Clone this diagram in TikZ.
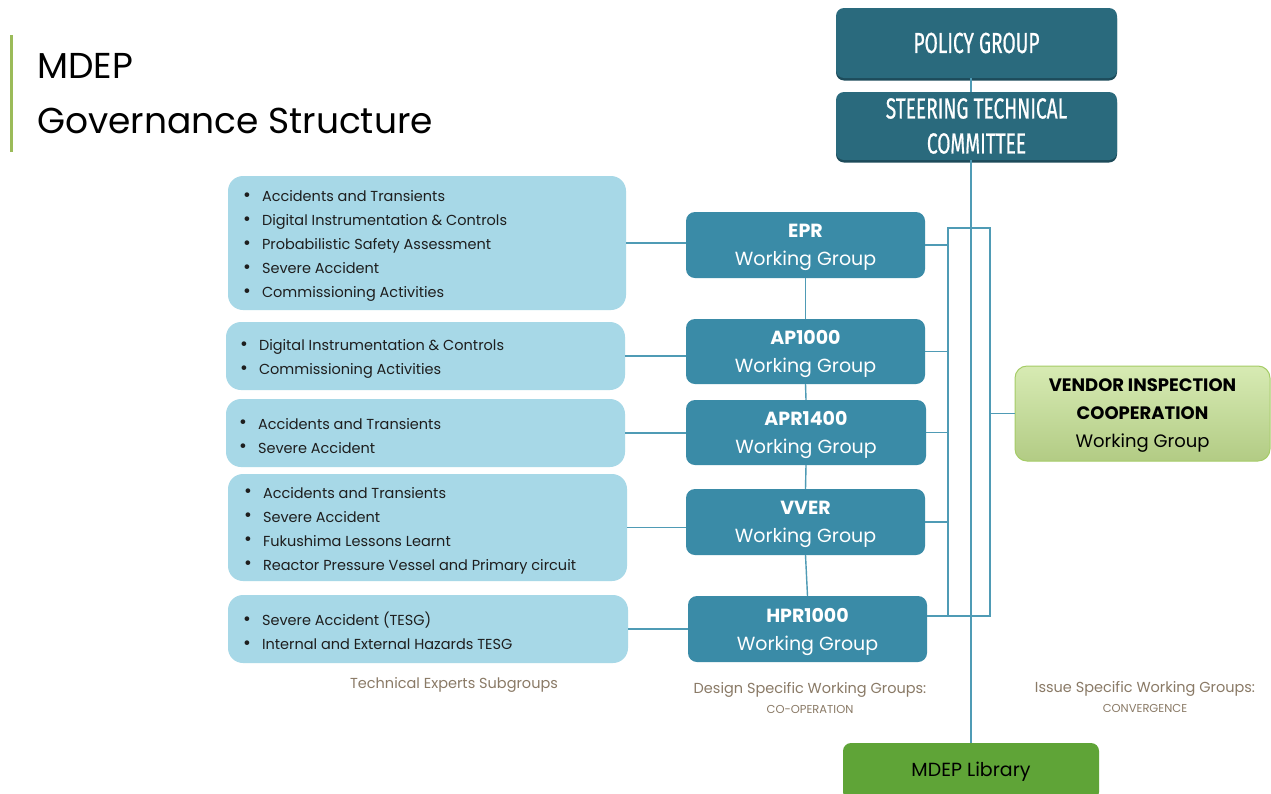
\documentclass[tikz,border=0pt]{standalone}
\usepackage{fontspec}
\setmainfont{Poppins}
\newfontfamily\condfont[FakeStretch=0.66,FakeBold=0.6]{Fira Sans}
\usetikzlibrary{shadows}
\definecolor{darkteal}{HTML}{2A6A7D}
\definecolor{tealedge}{HTML}{1D4B5A}
\definecolor{wgblue}{HTML}{3A8BA7}
\definecolor{lightblue}{HTML}{A7D8E7}
\definecolor{linkblue}{HTML}{4F9BB5}
\definecolor{vendorfill}{HTML}{C6E293}
\definecolor{vendoredge}{HTML}{A5CC66}
\definecolor{libgreen}{HTML}{5FA437}
\definecolor{barolive}{HTML}{9BBB59}
\definecolor{notetext}{HTML}{8A7A66}
\definecolor{itemtext}{HTML}{1E1E1E}
\newcommand{\bul}{\makebox[19pt][l]{\raisebox{0.5pt}{\fontsize{19}{24}\selectfont\textbullet}}}
\begin{document}
\begin{tikzpicture}[x=1pt,y=-1pt,
  govbox/.style={fill=darkteal, rounded corners=8pt, text=white, align=center,
    inner sep=0pt, font=\condfont\fontsize{29}{35}\selectfont,
    drop shadow={shadow xshift=0pt, shadow yshift=-2.5pt, fill=tealedge, opacity=1}},
  wgbox/.style={fill=wgblue, rounded corners=9pt, text=white, align=center,
    inner sep=0pt, text depth=0pt, font=\fontsize{19}{28}\selectfont},
  topicbox/.style={fill=lightblue, rounded corners=15pt, inner sep=0pt},
  topictext/.style={text=itemtext, align=left, inner sep=0pt,
    font=\fontsize{14.5}{24}\selectfont},
  link/.style={draw=linkblue, line width=1.4pt},
  note/.style={text=notetext, align=center, font=\fontsize{14.5}{20}\selectfont}
]
\useasboundingbox (0,0) rectangle (1271,793);
\fill[white] (0,0) rectangle (1271,793);

% title
\draw[barolive, line width=3pt] (11,35) -- (11,152);
\node[anchor=base west, inner sep=0pt, font=\fontsize{36}{40}\selectfont] (title1) at (37,78) {MDEP};
\node[anchor=base west, inner sep=0pt, font=\fontsize{36}{40}\selectfont] (title2) at (37,133) {Governance Structure};

% governing bodies
\node[govbox, minimum width=281pt, minimum height=70pt] (policy) at (976.5,43) {POLICY GROUP};
\node[govbox, minimum width=281pt, minimum height=68pt] (stc) at (976.5,126) {STEERING TECHNICAL\\COMMITTEE};

% design specific working groups
\node[wgbox, minimum width=239pt, minimum height=66pt] (epr) at (805.5,245) {\textbf{EPR}\\Working Group};
\node[wgbox, minimum width=239pt, minimum height=65pt] (ap) at (805.5,351.5) {\textbf{AP1000}\\Working Group};
\node[wgbox, minimum width=240pt, minimum height=65pt] (apr) at (806,432.5) {\textbf{APR1400}\\Working Group};
\node[wgbox, minimum width=239pt, minimum height=66pt] (vver) at (805.5,522) {\textbf{VVER}\\Working Group};
\node[wgbox, minimum width=239pt, minimum height=66pt] (hpr) at (807.5,629) {\textbf{HPR1000}\\Working Group};

% technical experts subgroups: boxes
\node[topicbox, minimum width=398pt, minimum height=134pt] (l1) at (427,243) {};
\node[topicbox, minimum width=399pt, minimum height=68pt] (l2) at (425.5,356) {};
\node[topicbox, minimum width=399pt, minimum height=68pt] (l3) at (425.5,433) {};
\node[topicbox, minimum width=399pt, minimum height=107pt] (l4) at (427.5,527.5) {};
\node[topicbox, minimum width=400pt, minimum height=68pt] (l5) at (428,629) {};

% technical experts subgroups: topic lists
\node[topictext, anchor=west] (l1t) at ([xshift=15pt,yshift=-3pt]l1.west)
  {\bul Accidents and Transients\\\bul Digital Instrumentation \& Controls\\\bul Probabilistic Safety Assessment\\\bul Severe Accident\\\bul Commissioning Activities};
\node[topictext, anchor=west] (l2t) at ([xshift=14pt,yshift=-3pt]l2.west)
  {\bul Digital Instrumentation \& Controls\\\bul Commissioning Activities};
\node[topictext, anchor=west] (l3t) at ([xshift=13pt,yshift=-3pt]l3.west)
  {\bul Accidents and Transients\\\bul Severe Accident};
\node[topictext, anchor=west] (l4t) at ([xshift=16pt,yshift=-3pt]l4.west)
  {\bul Accidents and Transients\\\bul Severe Accident\\\bul Fukushima Lessons Learnt\\\bul Reactor Pressure Vessel and Primary circuit};
\node[topictext, anchor=west] (l5t) at ([xshift=15pt,yshift=-2pt]l5.west)
  {\bul Severe Accident (TESG)\\\bul Internal and External Hazards TESG};

% issue specific working group
\node[draw=vendoredge, line width=1pt, top color=vendorfill!70!white, bottom color=vendorfill!90!black,
  rounded corners=12pt, minimum width=255pt, minimum height=95pt, inner sep=0pt, align=center,
  text depth=0pt, font=\fontsize{18}{28}\selectfont] (vendor) at (1142.5,413.5)
  {\textbf{VENDOR INSPECTION}\\\textbf{COOPERATION}\\Working Group};

% library
\node[fill=libgreen, rounded corners=8pt, minimum width=256pt, minimum height=57pt, inner sep=0pt,
  font=\fontsize{19}{24}\selectfont] (lib) at (971,771.5) {MDEP Library};

% bracket joining the working groups
\coordinate (bTL) at (948,228);
\coordinate (bTR) at (990,228);
\coordinate (bBR) at (990,616);
\coordinate (bBL) at (948,616);
\draw[link] (bTL) -- (bTR) -- (bBR) -- (bBL) -- cycle;

% connectors
\draw[link] (policy.south -| lib.north) -- (stc.north -| lib.north);
\draw[link] (stc.south -| lib.north) -- (lib.north);
\foreach \g in {epr,ap,apr,vver} \draw[link] (\g.east) -- (\g.east -| bTL);
\draw[link] (bBL -| hpr.east) -- (bBL);
\draw[link] (vendor.west) -- (vendor.west -| bTR);
\draw[link] (epr.south) -- (ap.north);
\draw[link] (ap.south) -- (apr.north);
\draw[link] (apr.south) -- (vver.north);
\draw[link] (vver.south) -- (hpr.north);
\draw[link] (l1.east) -- (l1.east -| epr.west);
\draw[link] (l2.east) -- (l2.east -| ap.west);
\draw[link] (l3.east) -- (l3.east -| apr.west);
\draw[link] (l4.east) -- (l4.east -| vver.west);
\draw[link] (l5.east) -- (l5.east -| hpr.west);

% captions
\node[note] (n1) at (454,685) {Technical Experts Subgroups};
\node[note] (n2) at (810,698) {Design Specific Working Groups:\\{\fontsize{11.5}{20}\selectfont CO-OPERATION}};
\node[note] (n3) at (1145,697) {Issue Specific Working Groups:\\{\fontsize{11.5}{20}\selectfont CONVERGENCE}};
\end{tikzpicture}
\end{document}
